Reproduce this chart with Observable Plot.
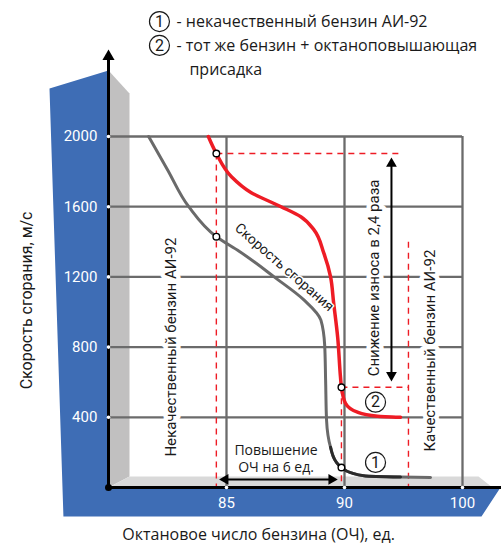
<!DOCTYPE html>
<html><head><meta charset="utf-8">
<script src="https://cdn.jsdelivr.net/npm/d3@7"></script>
<script src="https://cdn.jsdelivr.net/npm/@observablehq/plot@0.6"></script>
<style>body{margin:0;background:#fff;} svg{display:block}</style>
</head><body><div id="chart"></div>
<script>
// ---- axis data ----
const xBreaks = [80, 85, 90, 100];          // piecewise octane axis (equal spacing on screen)
const xTicks = [85, 90, 100];
const yTicks = [400, 800, 1200, 1600, 2000];

// ---- curve 1: poor-quality AI-92 (combustion speed vs octane) ----
const octane1 = [81.7, 82.5, 83.4, 84.57, 85.55, 87.02, 88.28, 89.0, 89.16, 89.2, 89.24, 89.41, 89.66, 89.87, 90.51, 91.78, 94.75, 97.29];
const speed1  = [2000, 1811, 1600, 1429, 1345, 1200, 1069, 954, 811, 611, 383, 229, 143, 114, 85, 66, 60, 57];
// darker tail of curve 1
const tailX = [89.41, 89.66, 89.87, 90.51, 91.78, 94.75];
const tailY = [229, 143, 114, 85, 66, 60];

// ---- curve 2: same fuel + octane booster ----
const octane2 = [84.23, 84.57, 85.21, 86.05, 87.31, 88.15, 88.7, 89.12, 89.41, 89.54, 89.71, 89.83, 89.87, 90.08, 91.1, 92.8, 94.75];
const speed2  = [2000, 1903, 1771, 1680, 1600, 1543, 1469, 1337, 1200, 1051, 857, 629, 571, 480, 429, 406, 400];

// ---- marked points ----
const markX = [84.57, 84.57, 89.87, 89.87];
const markY = [1903, 1429, 571, 114];

// ---- red dashed guides ----
const guideX1 = [84.57, 84.57, 89.87, 89.87, 95.42];
const guideY1 = [1903, 1903, 571, 571, 1400];
const guideX2 = [84.57, 94.9, 89.87, 95.42, 95.42];
const guideY2 = [0, 1903, 0, 571, 0];

// ---- decorative 3D frame (data units) ----
const bluePanel = [[77.5, 2274], [80, 2376], [80, 0], [103.22, 0], [101.61, -165], [78.09, -165]];
const sideWall  = [[80, 2376], [80.89, 2245], [80.89, 63], [80, 0]];
const floorPane = [[80, 0], [80.89, 63], [101.36, 63], [102.54, 0]];

// ---- texts ----
const legendNum   = ["1", "2"];
const legendNumX  = [82.16, 82.16];
const legendNumY  = [2655, 2519];
const legendText  = ["- некачественный бензин АИ-92", "- тот же бензин + октаноповышающая", "присадка"];
const legendTextX = [82.88, 82.88, 83.43];
const legendTextY = [2655, 2519, 2382];

const vLabels  = ["Некачественный бензин АИ-92", "Качественный бензин АИ-92", "Снижение износа в 2,4 раза"];
const vLabelsX = [82.65, 97.29, 92.54];
const vLabelsY = [800, 780, 1194];

const numInPlot  = ["2", "1"];
const numInPlotX = [92.63, 92.63];
const numInPlotY = [486, 143];

const raiseLines  = ["Повышение", "ОЧ на 6 ед."];
const raiseLinesY = [211, 114];

const yTitle = "Скорость сгорания, м/с";
const xTitle = "Октановое число бензина (ОЧ), ед.";
const curveLabel = "Скорость сгорания";

const W = 501, H = 545, ML = 108, MR = 39, MT = 136, MB = 58;
const FONT = "Roboto, 'Noto Sans', sans-serif";
const FONT2 = "'Open Sans', 'Noto Sans', sans-serif";
const BLUE = "#3e6db5", RED = "#ee1c25", GRID = "#6b6b6b", INK = "#1a1a1a";

const poly = (pts, fill) => Plot.line(pts, {x: d => d[0], y: d => d[1], fill, stroke: "none"});
const curve1 = octane1.map((x, i) => ({x, y: speed1[i]}));
const tail1 = tailX.map((x, i) => ({x, y: tailY[i]}));
const curve2 = octane2.map((x, i) => ({x, y: speed2[i]}));
const guides = guideX1.map((x, i) => ({x1: x, y1: guideY1[i], x2: guideX2[i], y2: guideY2[i]}));

const chart = Plot.plot({
  width: W, height: H,
  marginLeft: ML, marginRight: MR, marginTop: MT, marginBottom: MB,
  x: {type: "linear", domain: xBreaks, range: xBreaks.map((_, i) => ML + i * (W - ML - MR) / (xBreaks.length - 1)), axis: null},
  y: {domain: [0, 2000], axis: null},
  style: {fontFamily: FONT, background: "white", overflow: "visible"},
  marks: [
    poly(bluePanel, BLUE),
    poly(sideWall, "#c1c0c0"),
    poly(floorPane, "#d9d9d9"),
    // grid
    Plot.ruleY(yTicks, {y: d => d, x1: 80, x2: 100, stroke: GRID, strokeWidth: 2.3}),
    Plot.ruleX(xTicks, {x: d => d, y1: 0, y2: 2000, stroke: GRID, strokeWidth: 2.3}),
    // vertical labels with white halo (break the grid)
    Plot.text(vLabels, {x: (d, i) => vLabelsX[i], y: (d, i) => vLabelsY[i], text: d => d, rotate: -90,
      fontSize: 15, fill: INK, stroke: "white", strokeWidth: 9, paintOrder: "stroke"}),
    // red dashed guides
    Plot.link(guides, {x1: "x1", y1: "y1", x2: "x2", y2: "y2", stroke: RED, strokeWidth: 1.4, strokeDasharray: "6,5"}),
    // curves
    Plot.line(curve1, {x: "x", y: "y", stroke: "#6a6a6a", strokeWidth: 3, curve: "monotone-y"}),
    Plot.line(tail1, {x: "x", y: "y", stroke: "#2b2b2b", strokeWidth: 3, curve: "monotone-y"}),
    Plot.line(curve2, {x: "x", y: "y", stroke: RED, strokeWidth: 3.5, curve: "monotone-y"}),
    // curve label
    Plot.text([curveLabel], {x: 87.45, y: 1255, text: d => d, rotate: 41, fontSize: 14, fill: INK,
      stroke: "white", strokeWidth: 3, paintOrder: "stroke"}),
    // arrows: vertical
    Plot.ruleX([93.98], {y1: 640, y2: 1845, stroke: "black", strokeWidth: 2}),
    Plot.dot([1845], {x: 93.98, y: d => d, symbol: "triangle", r: 4, fill: "black", stroke: "none"}),
    Plot.dot([640], {x: 93.98, y: d => d, symbol: "triangle", r: 4, fill: "black", stroke: "none", rotate: 180}),
    // arrows: horizontal
    Plot.ruleY([46], {x1: 84.95, x2: 89.45, stroke: "black", strokeWidth: 2}),
    Plot.dot([84.95], {x: d => d, y: 46, symbol: "triangle", r: 4, fill: "black", stroke: "none", rotate: -90}),
    Plot.dot([89.45], {x: d => d, y: 46, symbol: "triangle", r: 4, fill: "black", stroke: "none", rotate: 90}),
    Plot.text(raiseLines, {x: 87.1, y: (d, i) => raiseLinesY[i], text: d => d, fontSize: 14, fontFamily: FONT2, fill: INK}),
    // numbered circles in plot
    Plot.dot(numInPlot, {x: (d, i) => numInPlotX[i], y: (d, i) => numInPlotY[i], r: 10, fill: "white", stroke: INK, strokeWidth: 1.2}),
    Plot.text(numInPlot, {x: (d, i) => numInPlotX[i], y: (d, i) => numInPlotY[i], text: d => d, fontSize: 16, fill: INK}),
    // marked points
    Plot.dot(markX, {x: d => d, y: (d, i) => markY[i], r: 3.3, fill: "white", stroke: "black", strokeWidth: 1.4}),
    // axes
    Plot.ruleX([80], {y1: 0, y2: 2456, stroke: "black", strokeWidth: 3}),
    Plot.dot([2456], {x: 80, y: d => d, symbol: "triangle", r: 4.5, fill: "black", stroke: "none"}),
    Plot.ruleY([0], {x1: 80, x2: 104, stroke: "black", strokeWidth: 3}),
    Plot.dot([0], {x: 80, y: d => d, r: 3.5, fill: "black"}),
    Plot.dot(yTicks, {x: 80, y: d => d, r: 1.8, fill: "white", stroke: "none"}),
    Plot.dot(xTicks, {x: d => d, y: 0, r: 1.8, fill: "white", stroke: "none"}),
    // tick labels
    Plot.text(yTicks, {x: 79.53, y: d => d, text: d => String(d), textAnchor: "end", fill: "white", fontSize: 15}),
    Plot.text(xTicks, {x: d => d, y: -91, text: d => String(d), fill: "white", fontSize: 15}),
    // titles
    Plot.text([yTitle], {x: 76.53, y: 1066, text: d => d, rotate: -90, fontSize: 16, fill: INK}),
    Plot.text([xTitle], {x: 86.36, y: -270, text: d => d, fontSize: 16, fontFamily: FONT2, fill: INK}),
    // legend
    Plot.dot(legendNum, {x: (d, i) => legendNumX[i], y: (d, i) => legendNumY[i], r: 10, fill: "white", stroke: INK, strokeWidth: 1.2}),
    Plot.text(legendNum, {x: (d, i) => legendNumX[i], y: (d, i) => legendNumY[i], text: d => d, fontSize: 16, fill: INK}),
    Plot.text(legendText, {x: (d, i) => legendTextX[i], y: (d, i) => legendTextY[i], text: d => d, textAnchor: "start", fontSize: 16, fontFamily: FONT2, fill: INK})
  ]
});
document.getElementById("chart").appendChild(chart);
</script>
</body></html>
